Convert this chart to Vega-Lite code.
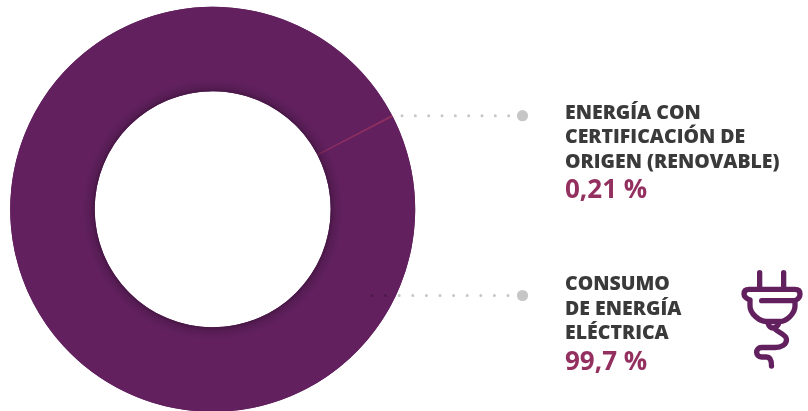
{
"$schema":"https://vega.github.io/schema/vega-lite/v6.json",
"autosize":{"type":"fit","contains":"padding"},
"width":808,"height":411,"padding":0,
"background":"#ffffff",
"view":{"stroke":null},
"data":{"values":[
{"slice":"renovable","value":0.21,"label":"ENERGÍA CON\nCERTIFICACIÓN DE\nORIGEN (RENOVABLE)","pct":"0,21 %"},
{"slice":"electrica","value":99.7,"label":"CONSUMO\nDE ENERGÍA\nELÉCTRICA","pct":"99,7 %"}
]},
"encoding":{
"x":{"datum":0,"type":"quantitative","scale":{"domain":[0,808],"range":[0,808]},"axis":null},
"y":{"datum":0,"type":"quantitative","scale":{"domain":[0,411],"range":[0,411]},"axis":null}
},
"layer":[
{"transform":[{"filter":"datum.slice==='electrica'"}],
 "mark":{"type":"arc","outerRadius":202.5,"innerRadius":118,"theta":0,"theta2":6.2832,"fill":"#62205f"},
 "encoding":{"x":{"datum":212.7},"y":{"datum":209.3}}},
{"mark":{"type":"arc","outerRadius":202.5,"innerRadius":118},
 "encoding":{
 "x":{"datum":212.7},"y":{"datum":209.3},
 "theta":{"field":"value","type":"quantitative","stack":true,"scale":{"range":[1.085,7.3682]}},
 "order":{"field":"value","type":"quantitative","sort":"ascending"},
 "color":{"field":"slice","type":"nominal","scale":{"domain":["renovable","electrica"],"range":["#8c2f60","#62205f"]},"legend":null}
 }},
{"transform":[{"filter":"datum.slice==='electrica'"}],
 "mark":{"type":"arc","outerRadius":202.5,"innerRadius":118,"theta":0,"theta2":6.2832,
 "fill":{"gradient":"radial","x1":0.5,"y1":0.5,"r1":0,"x2":0.5,"y2":0.5,"r2":0.5,
 "stops":[{"offset":0,"color":"rgba(0,0,0,0.28)"},{"offset":0.583,"color":"rgba(0,0,0,0.28)"},{"offset":0.6,"color":"rgba(0,0,0,0.12)"},{"offset":0.63,"color":"rgba(0,0,0,0.03)"},{"offset":0.65,"color":"rgba(0,0,0,0)"},{"offset":1,"color":"rgba(0,0,0,0)"}]}},
 "encoding":{"x":{"datum":212.7},"y":{"datum":209.3}}},
{"transform":[{"filter":"datum.slice==='renovable'"}],
 "mark":{"type":"rule","color":"#c6c6c6","strokeWidth":3,"strokeCap":"round","strokeDash":[0,13.33],"blend":"multiply"},
 "encoding":{"x":{"datum":402},"x2":{"datum":510},"y":{"datum":115.7}}},
{"transform":[{"filter":"datum.slice==='electrica'"}],
 "mark":{"type":"rule","color":"#c6c6c6","strokeWidth":3,"strokeCap":"round","strokeDash":[0,13.6],"blend":"multiply"},
 "encoding":{"x":{"datum":372},"x2":{"datum":510},"y":{"datum":295.5}}},
{"transform":[{"filter":"datum.slice==='renovable'"}],
 "mark":{"type":"point","filled":true,"size":125,"color":"#c6c6c6","opacity":1},
 "encoding":{"x":{"datum":522.5},"y":{"datum":115.7}}},
{"transform":[{"filter":"datum.slice==='electrica'"}],
 "mark":{"type":"point","filled":true,"size":125,"color":"#c6c6c6","opacity":1},
 "encoding":{"x":{"datum":522.5},"y":{"datum":295.5}}},
{"transform":[{"filter":"datum.slice==='renovable'"}],
 "mark":{"type":"text","align":"left","baseline":"alphabetic","lineBreak":"\n","lineHeight":24.5,"font":"Open Sans","fontWeight":800,"fontSize":19.5,"color":"#3a3a3a"},
 "encoding":{"x":{"datum":565},"y":{"datum":118.5},"text":{"field":"label"}}},
{"transform":[{"filter":"datum.slice==='electrica'"}],
 "mark":{"type":"text","align":"left","baseline":"alphabetic","lineBreak":"\n","lineHeight":24.5,"font":"Open Sans","fontWeight":800,"fontSize":19.5,"color":"#3a3a3a"},
 "encoding":{"x":{"datum":565},"y":{"datum":290},"text":{"field":"label"}}},
{"transform":[{"filter":"datum.slice==='renovable'"}],
 "mark":{"type":"text","align":"left","baseline":"alphabetic","font":"Open Sans","fontWeight":700,"fontSize":26,"color":"#94305f"},
 "encoding":{"x":{"datum":565},"y":{"datum":198},"text":{"field":"pct"}}},
{"transform":[{"filter":"datum.slice==='electrica'"}],
 "mark":{"type":"text","align":"left","baseline":"alphabetic","font":"Open Sans","fontWeight":700,"fontSize":26,"color":"#94305f"},
 "encoding":{"x":{"datum":565},"y":{"datum":370},"text":{"field":"pct"}}},
{"transform":[{"filter":"datum.slice==='electrica'"}],
 "mark":{"type":"point","filled":false,"size":10000,"opacity":1,"stroke":"#62205f","strokeWidth":5.3,"strokeCap":"round","strokeJoin":"round",
 "shape":"M-0.237,-0.917L-0.237,-0.583M0.243,-0.917L0.243,-0.583M-0.197,-0.357L0.47,-0.357M-0.43,-0.37Q-0.55,-0.42,-0.55,-0.49Q-0.55,-0.583,-0.45,-0.583L0.47,-0.583Q0.57,-0.583,0.57,-0.49Q0.57,-0.4,0.47,-0.357M-0.43,-0.37L-0.43,-0.25C-0.43,-0.1,-0.25,0.06,-0.1,0.06L0.17,0.06C0.3,0.06,0.47,-0.1,0.47,-0.25L0.47,-0.357M-0.1,0.06L-0.07,0.1Q-0.04,0.19,0.03,0.19Q0.12,0.19,0.16,0.06M0.07,0.19C0.07,0.27,0.3,0.3,0.3,0.42C0.3,0.52,0.2,0.58,0.07,0.58L-0.2,0.58C-0.33,0.58,-0.33,0.77,-0.2,0.77L-0.1,0.77C-0.02,0.77,0,0.85,0,0.95"},
 "encoding":{"x":{"datum":771.5},"y":{"datum":318.5}}}
]
}
